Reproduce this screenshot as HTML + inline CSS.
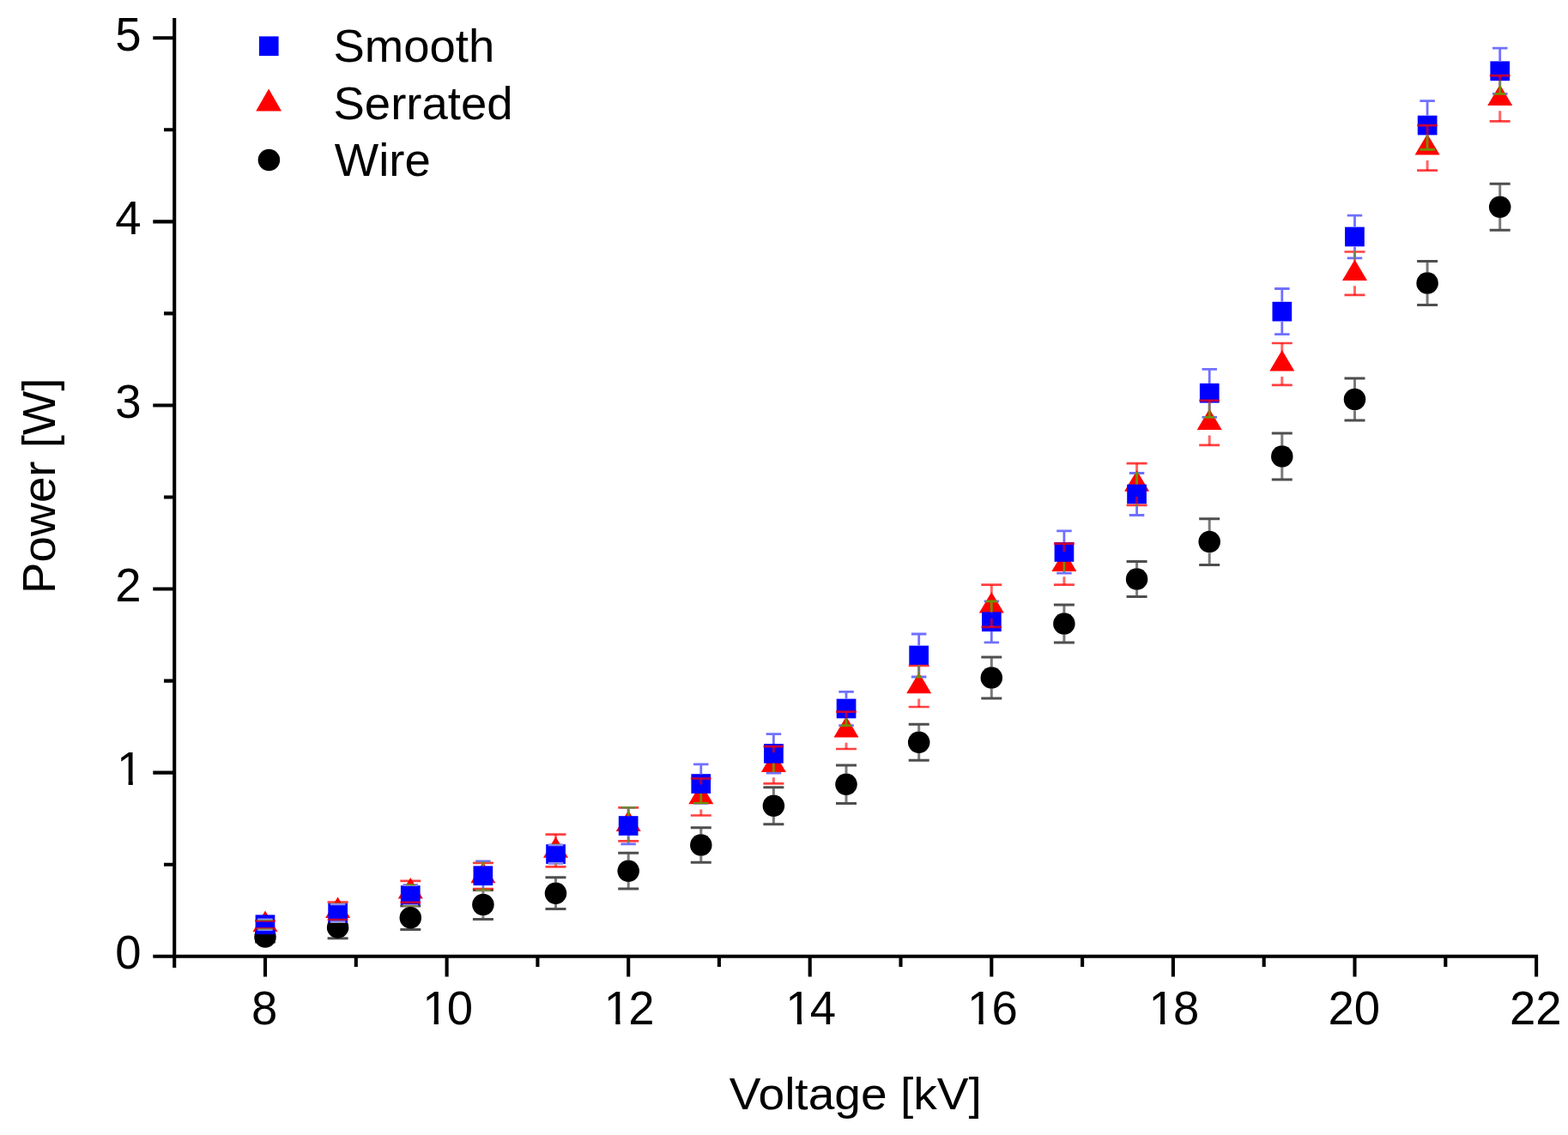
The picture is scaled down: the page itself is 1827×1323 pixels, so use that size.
<!DOCTYPE html>
<html><head><meta charset="utf-8"><title>Power vs Voltage</title>
<style>html,body{margin:0;padding:0;background:#fff;}body{width:1827px;height:1323px;overflow:hidden;}svg{display:block;}text{font-family:"Liberation Sans",Arial,sans-serif;fill:#000;}</style>
</head><body>
<svg width="1827" height="1323" viewBox="0 0 1827 1323">
<rect width="1827" height="1323" fill="#fff"/>
<path d="M203.2 21V1128M178.3 1114.7H1792.1M178.3 1114.7H203.2M178.3 900.6H203.2M178.3 686.5H203.2M178.3 472.5H203.2M178.3 258.4H203.2M178.3 44.3H203.2M191 1007.7H203.2M191 793.6H203.2M191 579.5H203.2M191 365.4H203.2M191 151.3H203.2M309 1114.7V1138.5M520.6 1114.7V1138.5M732.2 1114.7V1138.5M943.7 1114.7V1138.5M1155.3 1114.7V1138.5M1366.9 1114.7V1138.5M1578.5 1114.7V1138.5M1790.1 1114.7V1138.5M414.8 1114.7V1127M626.4 1114.7V1127M837.9 1114.7V1127M1049.5 1114.7V1127M1261.1 1114.7V1127M1472.7 1114.7V1127M1684.3 1114.7V1127" stroke="#000" stroke-width="4.1" fill="none"/>
<text transform="translate(164.6 1129.1) scale(1 1.025)" font-size="54.5" text-anchor="end">0</text>
<text transform="translate(166.4 915) scale(1 1.025)" font-size="54.5" text-anchor="end">1</text>
<text transform="translate(164.6 700.9) scale(1 1.025)" font-size="54.5" text-anchor="end">2</text>
<text transform="translate(164.6 486.9) scale(1 1.025)" font-size="54.5" text-anchor="end">3</text>
<text transform="translate(164.6 272.8) scale(1 1.025)" font-size="54.5" text-anchor="end">4</text>
<text transform="translate(164.6 58.7) scale(1 1.025)" font-size="54.5" text-anchor="end">5</text>
<text transform="translate(308.2 1194.2) scale(1 1.025)" font-size="54.5" text-anchor="middle">8</text>
<text transform="translate(519.8 1194.2) scale(1 1.025)" font-size="54.5" text-anchor="middle"><tspan dx="1.8">1</tspan><tspan dx="-1.8">0</tspan></text>
<text transform="translate(731.4 1194.2) scale(1 1.025)" font-size="54.5" text-anchor="middle"><tspan dx="1.8">1</tspan><tspan dx="-1.8">2</tspan></text>
<text transform="translate(942.9 1194.2) scale(1 1.025)" font-size="54.5" text-anchor="middle"><tspan dx="1.8">1</tspan><tspan dx="-1.8">4</tspan></text>
<text transform="translate(1154.5 1194.2) scale(1 1.025)" font-size="54.5" text-anchor="middle"><tspan dx="1.8">1</tspan><tspan dx="-1.8">6</tspan></text>
<text transform="translate(1366.1 1194.2) scale(1 1.025)" font-size="54.5" text-anchor="middle"><tspan dx="1.8">1</tspan><tspan dx="-1.8">8</tspan></text>
<text transform="translate(1577.7 1194.2) scale(1 1.025)" font-size="54.5" text-anchor="middle">20</text>
<text transform="translate(1789.3 1194.2) scale(1 1.025)" font-size="54.5" text-anchor="middle">22</text>
<path d="M139.4 909.5H149.6V915.8H139.4ZM154.8 909.5H164.7V915.8H154.8ZM495.5 1188.7H505.7V1195H495.5ZM510.9 1188.7H520.8V1195H510.9ZM707.1 1188.7H717.3V1195H707.1ZM722.5 1188.7H732.4V1195H722.5ZM918.6 1188.7H928.9V1195H918.6ZM934.1 1188.7H944V1195H934.1ZM1130.2 1188.7H1140.5V1195H1130.2ZM1145.7 1188.7H1155.6V1195H1145.7ZM1341.8 1188.7H1352V1195H1341.8ZM1357.3 1188.7H1367.2V1195H1357.3Z" fill="#fff"/>
<text transform="translate(996.8 1293.4) scale(1.07 1)" font-size="51.5" text-anchor="middle">Voltage [kV]</text>
<text transform="translate(64 566.3) rotate(-90)" font-size="54.5" text-anchor="middle">Power [W]</text>
<path d="M478.3 1057V1056M478.3 1082.5V1083.6M562.9 1041.8V1037.6M562.9 1067.2V1071.4M647.5 1028.5V1022.8M647.5 1054V1059.6M732.2 1002.5V994.3M732.2 1028V1036.1M816.8 972.2V964.7M816.8 997.8V1005.3M901.4 926.5V917.8M901.4 952V960.8M986 901.5V892.1M986 927V936.5M1070.7 852.5V844.2M1070.7 878V886.2M1155.3 777.2V766M1155.3 802.8V814M1239.9 714.2V705M1239.9 739.8V749M1324.6 662.2V654.5M1324.6 687.8V695.5M1409.2 618.9V604.7M1409.2 644.4V658.5M1493.8 519.2V505.1M1493.8 544.8V558.9M1578.5 452.9V441.1M1578.5 478.4V490.1M1663.1 317.2V304.4M1663.1 342.8V355.6M1747.7 228.4V214.2M1747.7 253.9V268.2" stroke="#7a7a7a" stroke-width="3" fill="none"/>
<path d="M297 1086h24M297 1098h24M381.6 1068.2h24M381.6 1093.8h24M466.3 1056h24M466.3 1083.6h24M550.9 1037.6h24M550.9 1071.4h24M635.5 1022.8h24M635.5 1059.6h24M720.2 994.3h24M720.2 1036.1h24M804.8 964.7h24M804.8 1005.3h24M889.4 917.8h24M889.4 960.8h24M974 892.1h24M974 936.5h24M1058.7 844.2h24M1058.7 886.2h24M1143.3 766h24M1143.3 814h24M1227.9 705h24M1227.9 749h24M1312.6 654.5h24M1312.6 695.5h24M1397.2 604.7h24M1397.2 658.5h24M1481.8 505.1h24M1481.8 558.9h24M1566.5 441.1h24M1566.5 490.1h24M1651.1 304.4h24M1651.1 355.6h24M1735.7 214.2h24M1735.7 268.2h24" stroke="#4e4e4e" stroke-width="3" fill="none"/>
<g><circle cx="309" cy="1092" r="12.75" fill="#000"/><circle cx="393.6" cy="1081" r="12.75" fill="#000"/><circle cx="478.3" cy="1069.8" r="12.75" fill="#000"/><circle cx="562.9" cy="1054.5" r="12.75" fill="#000"/><circle cx="647.5" cy="1041.2" r="12.75" fill="#000"/><circle cx="732.2" cy="1015.2" r="12.75" fill="#000"/><circle cx="816.8" cy="985" r="12.75" fill="#000"/><circle cx="901.4" cy="939.3" r="12.75" fill="#000"/><circle cx="986" cy="914.3" r="12.75" fill="#000"/><circle cx="1070.7" cy="865.2" r="12.75" fill="#000"/><circle cx="1155.3" cy="790" r="12.75" fill="#000"/><circle cx="1239.9" cy="727" r="12.75" fill="#000"/><circle cx="1324.6" cy="675" r="12.75" fill="#000"/><circle cx="1409.2" cy="631.6" r="12.75" fill="#000"/><circle cx="1493.8" cy="532" r="12.75" fill="#000"/><circle cx="1578.5" cy="465.6" r="12.75" fill="#000"/><circle cx="1663.1" cy="330" r="12.75" fill="#000"/><circle cx="1747.7" cy="241.2" r="12.75" fill="#000"/></g>
<g><path d="M309 1061.5L323.5 1086L294.5 1086Z" fill="#ff0000"/><path d="M393.6 1045.5L408.1 1070L379.1 1070Z" fill="#ff0000"/><path d="M478.3 1023L492.8 1047.5L463.8 1047.5Z" fill="#ff0000"/><path d="M562.9 1004.7L577.4 1029.2L548.4 1029.2Z" fill="#ff0000"/><path d="M647.5 975.2L662 999.7L633 999.7Z" fill="#ff0000"/><path d="M732.2 944.6L746.7 969.1L717.7 969.1Z" fill="#ff0000"/><path d="M816.8 912.7L831.3 937.2L802.3 937.2Z" fill="#ff0000"/><path d="M901.4 875.4L915.9 899.9L886.9 899.9Z" fill="#ff0000"/><path d="M986 835L1000.5 859.5L971.5 859.5Z" fill="#ff0000"/><path d="M1070.7 783.7L1085.2 808.2L1056.2 808.2Z" fill="#ff0000"/><path d="M1155.3 690L1169.8 714.5L1140.8 714.5Z" fill="#ff0000"/><path d="M1239.9 641.4L1254.4 665.9L1225.4 665.9Z" fill="#ff0000"/><path d="M1324.6 548.2L1339.1 572.7L1310.1 572.7Z" fill="#ff0000"/><path d="M1409.2 476.6L1423.7 501.1L1394.7 501.1Z" fill="#ff0000"/><path d="M1493.8 408.1L1508.3 432.6L1479.3 432.6Z" fill="#ff0000"/><path d="M1578.5 302.4L1593 326.9L1564 326.9Z" fill="#ff0000"/><path d="M1663.1 156.1L1677.6 180.6L1648.6 180.6Z" fill="#ff0000"/><path d="M1747.7 98.4L1762.2 122.9L1733.2 122.9Z" fill="#ff0000"/></g>
<g><rect x="297.6" y="1066.4" width="22.7" height="22.7" fill="#0000ff"/><rect x="382.3" y="1053" width="22.7" height="22.7" fill="#0000ff"/><rect x="466.9" y="1032.2" width="22.7" height="22.7" fill="#0000ff"/><rect x="551.5" y="1009.4" width="22.7" height="22.7" fill="#0000ff"/><rect x="636.2" y="984.2" width="22.7" height="22.7" fill="#0000ff"/><rect x="720.8" y="951.2" width="22.7" height="22.7" fill="#0000ff"/><rect x="805.4" y="902.2" width="22.7" height="22.7" fill="#0000ff"/><rect x="890.1" y="867" width="22.7" height="22.7" fill="#0000ff"/><rect x="974.7" y="814.6" width="22.7" height="22.7" fill="#0000ff"/><rect x="1059.3" y="752.6" width="22.7" height="22.7" fill="#0000ff"/><rect x="1144" y="713.4" width="22.7" height="22.7" fill="#0000ff"/><rect x="1228.6" y="632.1" width="22.7" height="22.7" fill="#0000ff"/><rect x="1313.2" y="564.6" width="22.7" height="22.7" fill="#0000ff"/><rect x="1397.9" y="446.9" width="22.7" height="22.7" fill="#0000ff"/><rect x="1482.5" y="351.8" width="22.7" height="22.7" fill="#0000ff"/><rect x="1567.1" y="264.6" width="22.7" height="22.7" fill="#0000ff"/><rect x="1651.8" y="134.7" width="22.7" height="22.7" fill="#0000ff"/><rect x="1736.4" y="71.4" width="22.7" height="22.7" fill="#0000ff"/></g>
<path d="M562.9 1006.5V1005.9M562.9 1035.5V1036.1M647.5 977V972.6M647.5 1006V1010.4M732.2 946.4V941.4M732.2 975.4V980.4M816.8 914.5V907.5M816.8 943.5V950.5M901.4 877.2V870.1M901.4 906.2V913.3M986 836.8V829.6M986 865.8V873M1070.7 785.5V776M1070.7 814.5V824M1155.3 691.8V681.7M1155.3 720.8V730.9M1239.9 643.2V633.7M1239.9 672.2V681.7M1324.6 550V540.2M1324.6 579V588.8M1409.2 478.4V466.9M1409.2 507.4V518.9M1493.8 409.9V400M1493.8 438.9V448.8M1578.5 304.2V293.5M1578.5 333.2V343.9M1663.1 157.9V146.1M1663.1 186.9V198.7M1747.7 100.2V88.1M1747.7 129.2V141.3" stroke="#ff0000" stroke-opacity="0.6" stroke-width="3" fill="none"/>
<path d="M297 1073.3h24M297 1082.3h24M381.6 1051.6h24M381.6 1072h24M466.3 1026.8h24M466.3 1051.8h24M550.9 1005.9h24M550.9 1036.1h24M635.5 972.6h24M635.5 1010.4h24M720.2 941.4h24M720.2 980.4h24M804.8 907.5h24M804.8 950.5h24M889.4 870.1h24M889.4 913.3h24M974 829.6h24M974 873h24M1058.7 776h24M1058.7 824h24M1143.3 681.7h24M1143.3 730.9h24M1227.9 633.7h24M1227.9 681.7h24M1312.6 540.2h24M1312.6 588.8h24M1397.2 466.9h24M1397.2 518.9h24M1481.8 400h24M1481.8 448.8h24M1566.5 293.5h24M1566.5 343.9h24M1651.1 146.1h24M1651.1 198.7h24M1735.7 88.1h24M1735.7 141.3h24" stroke="#ff0000" stroke-opacity="0.75" stroke-width="2.7" fill="none"/>
<g style="mix-blend-mode:difference" opacity="0.56"><path d="M562.9 1009.4V1003.8M562.9 1032.1V1037.8M732.2 951.2V941.3M732.2 974V983.9M816.8 902.2V890.8M816.8 925V936.4M901.4 867V855.7M901.4 889.8V901.1M986 814.6V806.4M986 837.4V845.6M1070.7 752.6V739M1070.7 775.4V789M1155.3 713.4V700.8M1155.3 736.1V748.8M1239.9 632.1V618.8M1239.9 654.9V668.2M1324.6 564.6V551.5M1324.6 587.4V600.5M1409.2 446.9V430.3M1409.2 469.7V486.3M1493.8 351.8V336.5M1493.8 374.5V389.7M1578.5 264.6V251.2M1578.5 287.4V300.8M1663.1 134.7V117.7M1663.1 157.3V174.3M1747.7 71.4V56.1M1747.7 94V109.3M300.2 1071.8h17.5M300.2 1083.6h17.5M384.9 1053.9h17.5M384.9 1074.7h17.5M469.5 1031.7h17.5M469.5 1055.3h17.5M554.1 1003.8h17.5M554.1 1037.8h17.5M638.8 984.8h17.5M638.8 1006.4h17.5M723.4 941.3h17.5M723.4 983.9h17.5M808 890.8h17.5M808 936.4h17.5M892.7 855.7h17.5M892.7 901.1h17.5M977.3 806.4h17.5M977.3 845.6h17.5M1061.9 739h17.5M1061.9 789h17.5M1146.6 700.8h17.5M1146.6 748.8h17.5M1231.2 618.8h17.5M1231.2 668.2h17.5M1315.8 551.5h17.5M1315.8 600.5h17.5M1400.5 430.3h17.5M1400.5 486.3h17.5M1485.1 336.5h17.5M1485.1 389.7h17.5M1569.7 251.2h17.5M1569.7 300.8h17.5M1654.4 117.7h17.5M1654.4 174.3h17.5M1739 56.1h17.5M1739 109.3h17.5" stroke="#ffff00" stroke-width="2.8" fill="none"/></g>
<rect x="301.9" y="42.4" width="22.7" height="22.7" fill="#0000ff"/>
<path d="M313.1 103.4L328 129.4L298.2 129.4Z" fill="#ff0000"/>
<circle cx="313.4" cy="186.5" r="12.75" fill="#000"/>
<text x="388.5" y="72.4" font-size="54.5">Smooth</text>
<text x="388.5" y="138.7" font-size="54.5">Serrated</text>
<text x="389.8" y="205" font-size="54.5">Wire</text>
</svg>
</body></html>
